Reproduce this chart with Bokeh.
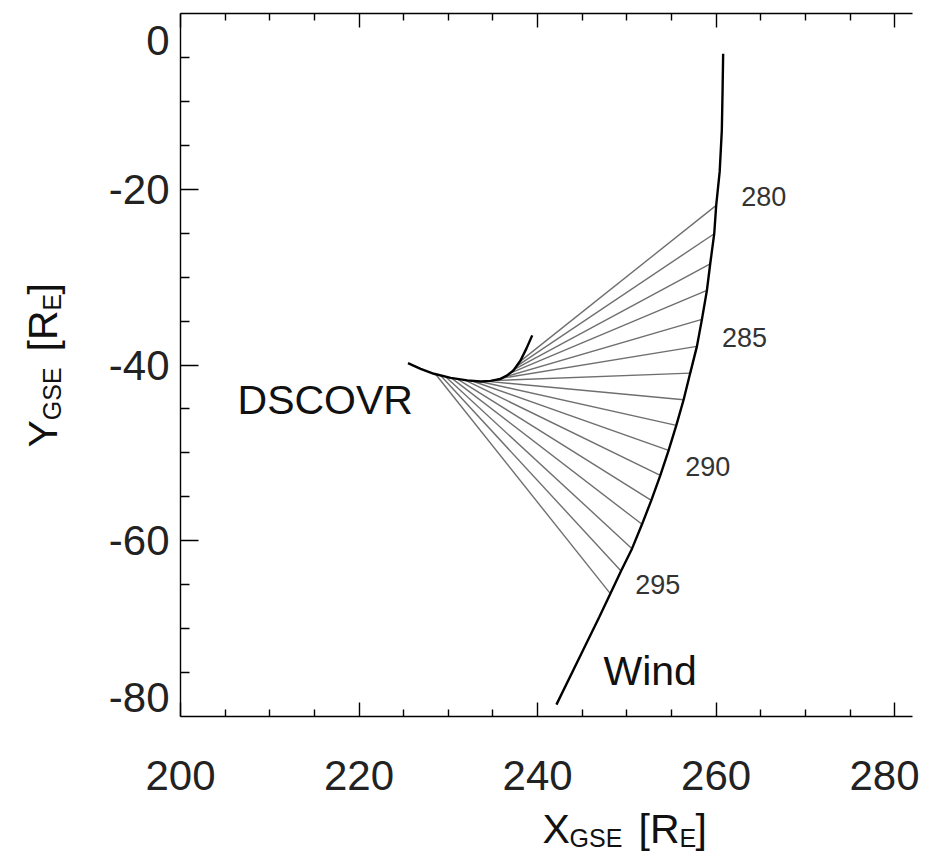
import math
from bokeh.plotting import figure
from bokeh.models import LinearAxis, FixedTicker, Label, Range1d, ColumnDataSource
from bokeh.core.properties import value
from bokeh.embed import file_html
from bokeh.resources import INLINE

# ---------------- data (GSE coordinates, Earth radii) ----------------
# Wind trajectory
wind_x = [260.79, 260.72, 260.64, 260.40, 260.01, 259.79, 259.34, 258.97, 258.41, 257.85,
          257.10, 256.36, 255.54, 254.68, 253.75, 252.74, 251.70, 250.58, 249.35, 248.15,
          246.90, 244.90, 242.11]
wind_y = [-4.58, -9.00, -13.30, -18.00, -21.84, -25.06, -28.48, -31.51, -34.81, -37.88,
          -40.92, -43.95, -46.87, -49.72, -52.56, -55.40, -58.13, -60.90, -63.44, -66.02,
          -68.70, -72.85, -78.65]

# DSCOVR trajectory
dscovr_x = [225.48, 226.90, 228.39, 230.26, 232.12, 233.61, 234.73, 235.85, 236.60, 237.30,
            238.09, 238.76, 239.40]
dscovr_y = [-39.78, -40.44, -41.00, -41.47, -41.75, -41.87, -41.81, -41.58, -41.18, -40.61,
            -39.48, -38.11, -36.63]

# Simultaneous positions (days 280 ... 295)
days = [280, 281, 282, 283, 284, 285, 286, 287, 288, 289, 290, 291, 292, 293, 294, 295]
wind_t_x = [260.01, 259.79, 259.34, 258.97, 258.41, 257.85, 257.10, 256.36, 255.54, 254.68,
            253.75, 252.74, 251.70, 250.58, 249.35, 248.15]
wind_t_y = [-21.84, -25.06, -28.48, -31.51, -34.81, -37.88, -40.92, -43.95, -46.87, -49.72,
            -52.56, -55.40, -58.13, -60.90, -63.44, -66.02]
dscovr_t_x = [237.98, 237.64, 237.19, 236.74, 236.19, 235.51, 234.84, 234.17, 233.39, 232.61,
              231.82, 231.04, 230.37, 229.70, 229.14, 228.58]
dscovr_t_y = [-39.64, -40.16, -40.61, -41.01, -41.40, -41.58, -41.78, -41.84, -41.85, -41.79,
              -41.70, -41.60, -41.49, -41.33, -41.19, -41.05]

labelled_days = [280, 285, 290, 295]

x_major = [200, 220, 240, 260, 280]
x_minor = [v for v in range(200, 285, 5) if v not in x_major]
y_major = [0, -20, -40, -60, -80]
y_tick_labels = ["0", "-20", "-40", "-60", "-80"]
y_minor = [v for v in range(0, -85, -5) if v not in y_major]

X_LIM = (200, 282)
Y_LIM = (-80, 0)

FONT = "Liberation Sans"
W, H = 919, 851
# frame placement in pixels: left axis at 180, top axis at 13
PX_X = 732.0 / (X_LIM[1] - X_LIM[0])
PX_Y = 703.0 / (Y_LIM[1] - Y_LIM[0])
x_range = Range1d(X_LIM[0] - 180 / PX_X, X_LIM[0] + (W - 180) / PX_X)
y_range = Range1d(Y_LIM[1] - (H - 13) / PX_Y, Y_LIM[1] + 13 / PX_Y)

# ---------------- figure ----------------
p = figure(width=W, height=H, x_range=x_range, y_range=y_range,
           x_axis_type=None, y_axis_type=None,
           output_backend="svg", toolbar_location=None, min_border=0)
p.outline_line_color = None
p.background_fill_color = "white"
p.border_fill_color = "white"

axis_style = dict(axis_line_color="black", axis_line_width=1.4,
                  major_tick_line_color="black", minor_tick_line_color="black",
                  major_tick_line_width=1.4, minor_tick_line_width=1.4,
                  major_tick_out=0, minor_tick_out=0)

xt = FixedTicker(ticks=x_major, minor_ticks=x_minor)
# the end ticks of the y axis coincide with the top/bottom axis lines; their labels
# are drawn separately (pulled inside the axis span, as in the original)
inner_y = [t for t in y_major if t not in (Y_LIM[0], Y_LIM[1])]
yt = FixedTicker(ticks=inner_y, minor_ticks=y_minor)

bottom = LinearAxis(ticker=xt, fixed_location=Y_LIM[0], bounds=X_LIM,
                    major_tick_in=14, minor_tick_in=7,
                    major_label_text_font=FONT, major_label_text_font_size="42px",
                    major_label_text_color="#222222", major_label_standoff=44, **axis_style)
p.add_layout(bottom, "below")

top = LinearAxis(ticker=xt, fixed_location=Y_LIM[1], bounds=X_LIM,
                 major_tick_in=14, minor_tick_in=7,
                 major_label_text_color=None, major_label_text_alpha=0,
                 major_label_standoff=0, **axis_style)
p.add_layout(top, "above")

overrides = {t: lab for t, lab in zip(y_major, y_tick_labels) if t in inner_y}
left = LinearAxis(ticker=yt, fixed_location=X_LIM[0], bounds=Y_LIM,
                  major_tick_in=18, minor_tick_in=9,
                  major_label_text_font=FONT, major_label_text_font_size="42px",
                  major_label_text_color="#222222", major_label_standoff=11,
                  major_label_overrides=overrides, **axis_style)
p.add_layout(left, "left")

p.add_layout(Label(x=X_LIM[0], y=-3.07, x_offset=-11, text=y_tick_labels[0],
                   text_font=FONT, text_font_size="42px", text_color="#222222",
                   text_align="right", text_baseline="middle"))
p.add_layout(Label(x=X_LIM[0], y=-77.84, x_offset=-11, text=y_tick_labels[-1],
                   text_font=FONT, text_font_size="42px", text_color="#222222",
                   text_align="right", text_baseline="middle"))

# ---------------- glyphs ----------------
p.segment(x0=dscovr_t_x, y0=dscovr_t_y, x1=wind_t_x, y1=wind_t_y,
          line_color="#6f6f6f", line_width=1.4)
p.line(wind_x, wind_y, line_color="black", line_width=2.4)
p.line(dscovr_x, dscovr_y, line_color="black", line_width=2.4)

lab_idx = [days.index(d) for d in labelled_days]
lab_src = ColumnDataSource(dict(x=[wind_t_x[i] for i in lab_idx],
                                y=[wind_t_y[i] for i in lab_idx],
                                t=[str(d) for d in labelled_days]))
p.text(x="x", y="y", text="t", source=lab_src, x_offset=25, y_offset=-9,
       text_font=value(FONT), text_font_size="27px", text_color="#333333",
       text_align="left", text_baseline="middle")

p.add_layout(Label(x=206.39, y=-43.93, text="DSCOVR", text_font=FONT, text_font_size="41px",
                   text_color="#111111", text_align="left", text_baseline="middle"))
p.add_layout(Label(x=247.38, y=-74.77, text="Wind", text_font=FONT, text_font_size="41px",
                   text_color="#111111", text_align="left", text_baseline="middle"))

# ---------------- axis titles (with subscripts) ----------------
def piece(x, y, txt, size, angle=0.0):
    p.add_layout(Label(x=x, y=y, text=txt, text_font=FONT, text_font_size=size,
                       text_color="#111111", text_align="left", text_baseline="middle",
                       angle=angle))

# X_GSE [R_E]
piece(240.55, -92.75, "X", "41px")
piece(243.58, -93.88, "GSE", "25px")
piece(251.31, -92.75, "[R", "41px")
piece(255.90, -93.88, "E", "25px")
piece(257.69, -92.75, "]", "41px")

# Y_GSE [R_E]  (rotated, reading upwards)
a = math.pi / 2
piece(184.57, -49.39, "Y", "41px", a)
piece(185.66, -46.28, "GSE", "25px", a)
piece(184.57, -38.46, "[R", "41px", a)
piece(185.66, -33.80, "E", "25px", a)
piece(184.57, -31.98, "]", "41px", a)

open("out.html", "w").write(file_html(p, INLINE))
